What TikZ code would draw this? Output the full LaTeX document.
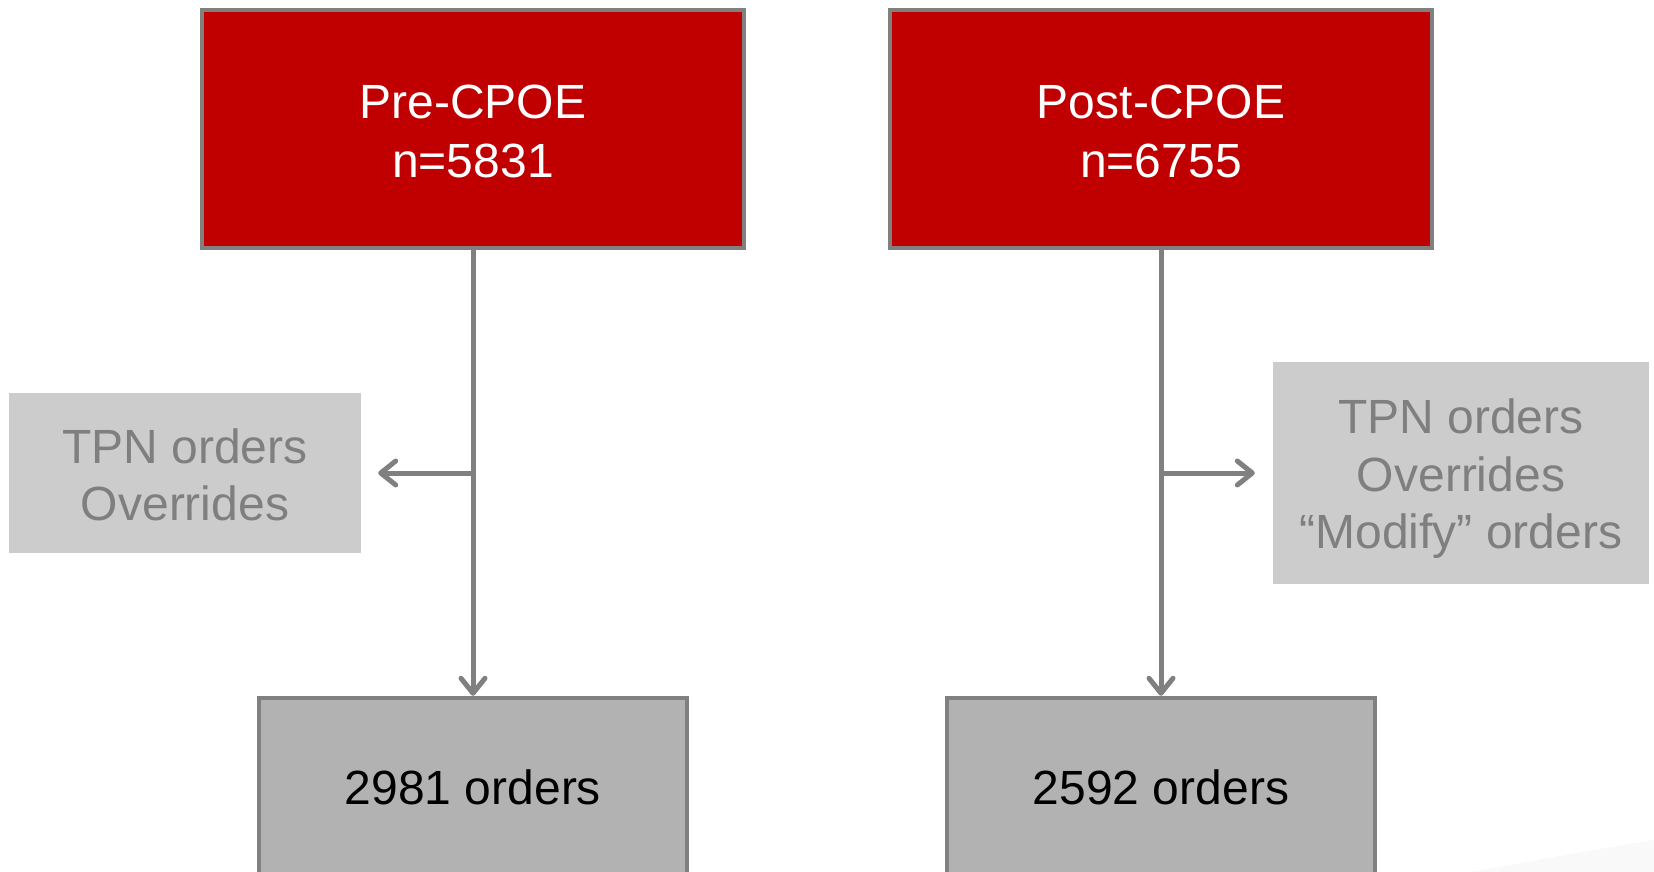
\documentclass[tikz,border=0pt]{standalone}
\usepackage{fontspec}
\setmainfont{Liberation Sans}
\usetikzlibrary{arrows.meta}
\definecolor{cred}{HTML}{C00000}
\definecolor{cborder}{HTML}{808080}
\definecolor{clight}{HTML}{CCCCCC}
\definecolor{cmid}{HTML}{B2B2B2}
\definecolor{ctext}{HTML}{7F7F7F}
\tikzset{
  redbox/.style={draw=cborder, line width=4.5pt, fill=cred, inner sep=0pt,
    minimum width=542pt, minimum height=238pt},
  redtext/.style={text=white, align=center, inner sep=0pt,
    font=\fontsize{48}{59}\selectfont},
  sidebox/.style={fill=clight, inner sep=0pt},
  sidetext/.style={text=ctext, align=center, inner sep=0pt,
    font=\fontsize{48}{57.5}\selectfont},
  resbox/.style={draw=cborder, line width=4.5pt, fill=cmid, text=black, align=center,
    inner sep=0pt, minimum width=428pt, minimum height=178pt,
    font=\fontsize{48}{59}\selectfont},
  conn/.style={draw=cborder, line width=5pt},
  arr/.style={conn, -{Straight Barb[length=15pt, width=24pt, line cap=round, line join=round]}},
}
\begin{document}
\begin{tikzpicture}[x=1pt, y=-1pt]
\useasboundingbox (0,0) rectangle (1654,872);
\clip (0,0) rectangle (1654,872);
\fill[gray!5] (1470,872) .. controls (1560,856) and (1615,846) .. (1654,840) -- (1654,872) -- cycle;
\node[redbox] (pre) at (473,129) {};
\node[redtext] (pret) at ([yshift=-2pt]pre.center) {Pre-CPOE\\n=5831};
\node[redbox] (post) at (1161,129) {};
\node[redtext] (postt) at ([yshift=-2pt]post.center) {Post-CPOE\\n=6755};
\node[sidebox, minimum width=352pt, minimum height=160pt] (ls) at (185,473) {};
\node[sidetext] (lst) at ([yshift=-2pt]ls.center) {TPN orders\\Overrides};
\node[sidebox, minimum width=376pt, minimum height=222pt] (rs) at (1461,473) {};
\node[sidetext] (rst) at ([yshift=-6pt]rs.center) {TPN orders\\Overrides\\“Modify” orders};
\node[resbox] (bl) at (473,787) {2981 orders};
\node[resbox] (br) at (1161,787) {2592 orders};
\coordinate (jl) at (pre.south |- ls.east);
\coordinate (jr) at (post.south |- rs.west);
\coordinate (tl) at ([xshift=17pt]ls.east);
\coordinate (tr) at ([xshift=-18pt]rs.west);
\draw[arr] (pre.south) -- (bl.north);
\draw[arr] (post.south) -- (br.north);
\draw[arr] (jl) -- (tl);
\draw[arr] (jr) -- (tr);
\end{tikzpicture}
\end{document}
